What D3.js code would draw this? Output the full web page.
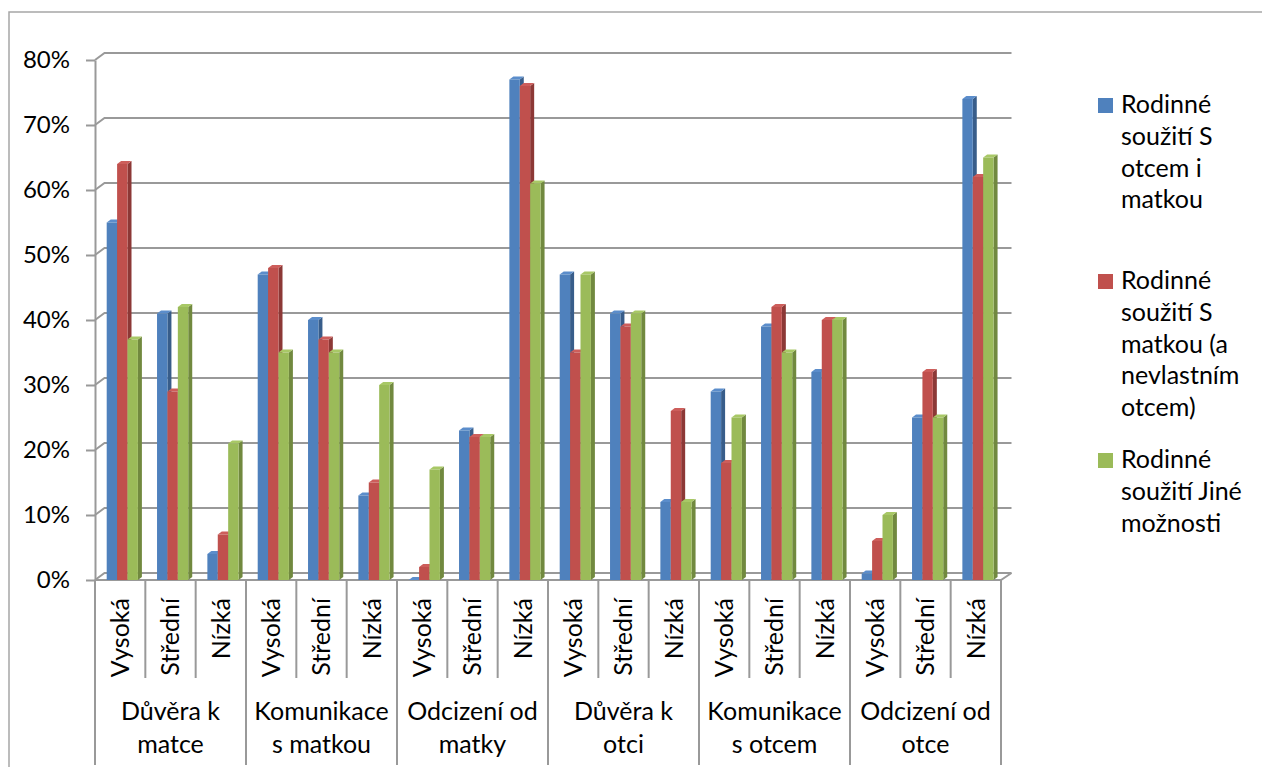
<!DOCTYPE html>
<html>
<head>
<meta charset="utf-8">
<script src="https://cdn.jsdelivr.net/npm/d3@7"></script>
<style>
  html, body { margin: 0; padding: 0; background: #fff; }
  svg { display: block; font-family: Lato, "Open Sans", sans-serif; }
</style>
</head>
<body>
<svg id="chart" width="1262" height="767"></svg>
<script>
// Sub-categories, grouped into six dimensions
const groups = [
  ["Důvěra k", "matce"],
  ["Komunikace", "s matkou"],
  ["Odcizení od", "matky"],
  ["Důvěra k", "otci"],
  ["Komunikace", "s otcem"],
  ["Odcizení od", "otce"]
];
const levels = ["Vysoká", "Střední", "Nízká"];

// Series names (wrapped legend lines)
const seriesNames = [
  ["Rodinné", "soužití S", "otcem i", "matkou"],
  ["Rodinné", "soužití S", "matkou (a", "nevlastním", "otcem)"],
  ["Rodinné", "soužití Jiné", "možnosti"]
];

// Values in percent, 18 sub-categories per series
const sOtcemIMatkou = [55, 41, 4, 47, 40, 13, 0, 23, 77, 47, 41, 12, 29, 39, 32, 1, 25, 74];
const sMatkou       = [64, 29, 7, 48, 37, 15, 2, 22, 76, 35, 39, 26, 18, 42, 40, 6, 32, 62];
const sJine         = [37, 42, 21, 35, 35, 30, 17, 22, 61, 47, 41, 12, 25, 35, 40, 10, 25, 65];

const yTicks = [0, 10, 20, 30, 40, 50, 60, 70, 80];

const series = [sOtcemIMatkou, sMatkou, sJine];
const colors = [
  { front: "#4F81BD", side: "#385D8A", top: "#5B8DCB" },
  { front: "#C0504D", side: "#8C3836", top: "#CD5E5B" },
  { front: "#9BBB59", side: "#71893F", top: "#A8C866" }
];

const svg = d3.select("#chart");
const fontSize = 25;

// Plot geometry
const x0 = 95, x1 = 1001, yBase = 580, yTop = 60;
const depthX = 9.5, depthY = -7;       // back-wall offset
const barDX = 4, barDY = -3;            // bar depth

const y = d3.scaleLinear().domain([0, 80]).range([yBase, yTop]);

const cats = [];
groups.forEach((g, gi) => levels.forEach((l, li) => cats.push({ key: gi + "-" + li, level: l, gi })));

const x = d3.scaleBand().domain(cats.map(c => c.key)).range([x0, x1]).paddingInner(0);
const xs = d3.scaleBand().domain([0, 1, 2]).range([11.7, 11.7 + 31.2]).padding(0);

const gridColor = "#999999";

// Outer frame
svg.append("path")
  .attr("d", "M9,767V12H1262")
  .attr("fill", "none").attr("stroke", "#a6a6a6").attr("stroke-width", 1.5);

// Gridlines on the back wall, joined to the axis by a short slant
const grid = svg.append("g").attr("fill", "none").attr("stroke", gridColor).attr("stroke-width", 2);
yTicks.forEach(t => {
  const yy = y(t);
  grid.append("path")
    .attr("d", `M${x0},${yy}L${x0 + depthX},${yy + depthY}H${x1 + depthX + 1}`);
});
// Floor front edge and right edge
grid.append("path")
  .attr("d", `M${x0},${yBase}H${x1}L${x1 + depthX + 1},${yBase + depthY}`);

// Value axis
const yAxis = d3.axisLeft(y).tickValues(yTicks).tickSize(9).tickSizeOuter(0).tickPadding(16)
  .tickFormat(d => d + "%");
const ya = svg.append("g").attr("transform", `translate(${x0},0)`).call(yAxis);
ya.select(".domain").attr("stroke", gridColor).attr("stroke-width", 2);
ya.selectAll(".tick line").attr("stroke", gridColor).attr("stroke-width", 2);
ya.selectAll(".tick text").attr("font-size", 24).attr("fill", "#000")
  .attr("font-family", "Lato, sans-serif");

// Bars: front face, side face, top face
const bars = svg.append("g");
cats.forEach((c, ci) => {
  series.forEach((s, si) => {
    const v = s[ci];
    const bx = x(c.key) + xs(si);
    const bw = xs.bandwidth();
    const by = y(v);
    const col = colors[si];
    const g = bars.append("g");
    // side
    g.append("path")
      .attr("d", `M${bx + bw},${yBase}L${bx + bw + barDX},${yBase + barDY}L${bx + bw + barDX},${by + barDY}L${bx + bw},${by}Z`)
      .attr("fill", col.side);
    // top
    g.append("path")
      .attr("d", `M${bx},${by}L${bx + barDX},${by + barDY}L${bx + bw + barDX},${by + barDY}L${bx + bw},${by}Z`)
      .attr("fill", col.top);
    // front
    g.append("rect")
      .attr("x", bx).attr("y", by)
      .attr("width", bw).attr("height", yBase - by)
      .attr("fill", col.front);
  });
});

// Category dividers below the axis
const div = svg.append("g").attr("stroke", gridColor).attr("stroke-width", 2);
for (let i = 0; i <= cats.length; i++) {
  const xx = i < cats.length ? x(cats[i].key) : x1;
  const isGroup = i % 3 === 0;
  div.append("line")
    .attr("x1", xx).attr("x2", xx)
    .attr("y1", yBase).attr("y2", isGroup ? 765 : 678);
}

// Rotated sub-category labels
svg.append("g").selectAll("text").data(cats).join("text")
  .attr("transform", d => `translate(${x(d.key) + x.bandwidth() / 2},598) rotate(-90)`)
  .attr("text-anchor", "end")
  .attr("dy", "0.35em")
  .attr("font-size", fontSize)
  .text(d => d.level);

// Group labels (two lines, centered)
const gw = (x1 - x0) / groups.length;
const gl = svg.append("g").attr("text-anchor", "middle").attr("font-size", fontSize);
groups.forEach((g, gi) => {
  const cx = x0 + gw * (gi + 0.5);
  g.forEach((line, li) => {
    gl.append("text").attr("x", cx).attr("y", 720 + li * 33).text(line);
  });
});

// Legend
const legendStarts = [113, 289, 468];
const lg = svg.append("g").attr("font-size", fontSize);
seriesNames.forEach((lines, si) => {
  const by = legendStarts[si];
  lg.append("rect")
    .attr("x", 1098).attr("y", by - 15)
    .attr("width", 15).attr("height", 15)
    .attr("fill", colors[si].front);
  lines.forEach((line, li) => {
    lg.append("text").attr("x", 1121).attr("y", by + li * 31.8).text(line);
  });
});
</script>
</body>
</html>
